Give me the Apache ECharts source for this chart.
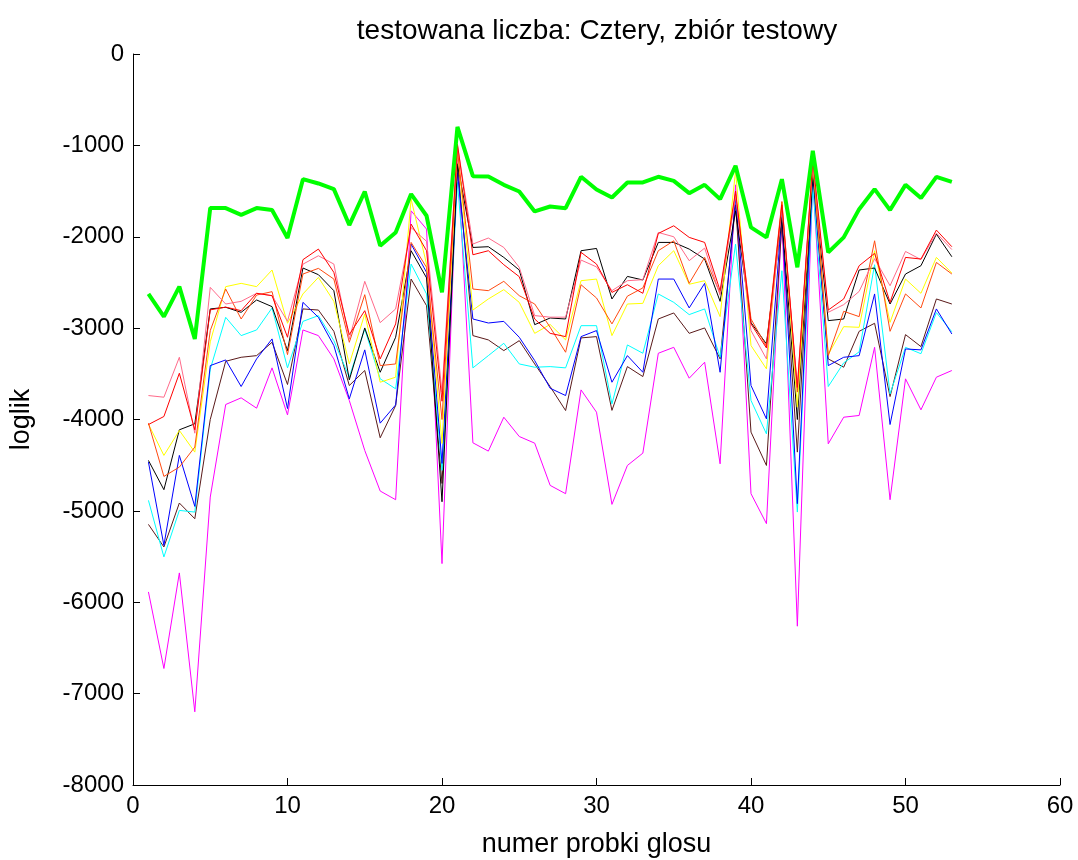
<!DOCTYPE html>
<html><head><meta charset="utf-8">
<script src="https://cdn.jsdelivr.net/npm/echarts@6/dist/echarts.min.js"></script>
<style>html,body{margin:0;padding:0;background:#fff}#c{width:1078px;height:860px}</style>
</head><body><div id="c"></div>
<script>
const xTicks = [0,10,20,30,40,50,60];
const green = [-2626,-2875,-2546,-3118,-1686,-1686,-1760,-1686,-1708,-2014,-1370,-1417,-1479,-1872,-1505,-2098,-1953,-1533,-1770,-2608,-798,-1337,-1340,-1432,-1505,-1723,-1669,-1687,-1344,-1483,-1570,-1406,-1406,-1344,-1388,-1523,-1432,-1588,-1224,-1898,-2007,-1370,-2335,-1060,-2171,-2007,-1698,-1479,-1708,-1432,-1577,-1344,-1399];
const red = [-4055,-3967,-3494,-4113,-2800,-2770,-2809,-2619,-2645,-3100,-2251,-2135,-2390,-3071,-2809,-3337,-2954,-1861,-2153,-3800,-987,-2197,-2153,-2306,-2437,-2900,-3057,-3093,-2171,-2299,-2609,-2525,-2619,-1964,-1880,-2007,-2062,-2590,-1500,-2954,-3217,-1650,-3650,-1151,-2802,-2681,-2317,-2182,-2718,-2226,-2244,-1927,-2109];
const pink = [-3738,-3756,-3319,-4150,-2554,-2736,-2707,-2619,-2645,-2926,-2300,-2208,-2299,-3120,-2488,-2940,-2790,-1900,-2050,-3700,-1000,-2080,-2014,-2117,-2335,-2863,-2880,-2880,-2255,-2330,-2590,-2481,-2470,-1953,-2000,-2262,-2124,-2640,-1550,-3027,-3337,-1700,-3650,-1200,-2827,-2743,-2598,-2240,-2536,-2161,-2250,-1960,-2140];
const orangered = [-4040,-4623,-4521,-4302,-3027,-2572,-2900,-2638,-2601,-3290,-2408,-2346,-2463,-3155,-2634,-3410,-3392,-2062,-2335,-4000,-1050,-2572,-2590,-2488,-2645,-2736,-2991,-3264,-2525,-2670,-2954,-2650,-2560,-2153,-2044,-2510,-2226,-2620,-1533,-2900,-3200,-1614,-3700,-1151,-3301,-2816,-2874,-2044,-3035,-2626,-2779,-2281,-2408];
const yellow = [-4050,-4393,-4120,-4357,-3150,-2546,-2510,-2546,-2364,-2947,-2626,-2445,-2707,-3392,-2845,-3592,-3537,-1588,-2300,-4262,-1050,-2802,-2681,-2579,-2718,-3057,-2960,-3129,-2481,-2463,-3082,-2736,-2729,-2317,-2153,-2520,-2481,-2874,-1279,-3191,-3446,-1620,-3865,-1200,-3290,-2984,-2991,-2153,-2937,-2463,-2619,-2226,-2397];
const black = [-4448,-4768,-4113,-4047,-2790,-2772,-2827,-2692,-2765,-3246,-2342,-2415,-2590,-3566,-2998,-3483,-3100,-2153,-2450,-4900,-1206,-2117,-2109,-2226,-2364,-2962,-2889,-2900,-2153,-2128,-2681,-2434,-2473,-2062,-2062,-2135,-2244,-2707,-1716,-2940,-3173,-1789,-4000,-1315,-2918,-2900,-2364,-2342,-2736,-2408,-2317,-1971,-2219];
const blue = [-4466,-5377,-4393,-4951,-3410,-3348,-3639,-3337,-3118,-3880,-2718,-2882,-3191,-3774,-3238,-4040,-3840,-2080,-2390,-4481,-1300,-2900,-2944,-2926,-3100,-3355,-3658,-3738,-3093,-3027,-3592,-3301,-3483,-2463,-2463,-2779,-2510,-3483,-1570,-3628,-3993,-1750,-4921,-1279,-3410,-3319,-3301,-2626,-4055,-3228,-3238,-2790,-3064];
const cyan = [-4885,-5504,-4995,-5013,-3450,-2882,-3082,-3020,-2779,-3435,-2926,-2863,-3137,-3537,-3009,-3555,-3664,-2299,-2626,-4557,-1406,-3435,-3301,-3166,-3392,-3428,-3421,-3435,-2973,-2973,-3829,-3184,-3275,-2626,-2718,-2852,-2790,-3319,-2080,-3792,-4157,-2372,-5013,-1450,-3639,-3380,-3260,-2306,-3720,-3210,-3280,-2830,-3040];
const brown = [-5148,-5395,-4914,-5086,-4000,-3363,-3319,-3301,-3155,-3617,-2790,-2802,-3035,-3628,-3464,-4200,-3847,-2463,-2754,-4700,-1200,-3082,-3129,-3246,-3137,-3392,-3640,-3902,-3107,-3093,-3900,-3421,-3530,-2900,-2834,-3057,-2998,-3337,-1650,-4138,-4503,-1850,-4357,-1350,-3337,-3428,-3035,-2947,-3749,-3071,-3202,-2681,-2736];
const magenta = [-5887,-6725,-5679,-7199,-4849,-3836,-3763,-3876,-3435,-3950,-3020,-3082,-3337,-3792,-4339,-4783,-4878,-1716,-1916,-5577,-1096,-4255,-4346,-3975,-4186,-4259,-4721,-4812,-3676,-3920,-4929,-4503,-4368,-3275,-3210,-3548,-3373,-4485,-1432,-4812,-5140,-1800,-6262,-1350,-4266,-3975,-3956,-3210,-4878,-3555,-3894,-3537,-3464];

const seriesDefs = [
  ['magenta', magenta, '#FF00FF', 1],
  ['brown', brown, '#5A1A1A', 1],
  ['cyan', cyan, '#00FFFF', 1],
  ['blue', blue, '#0000FF', 1],
  ['black', black, '#000000', 1],
  ['yellow', yellow, '#FFFF00', 1],
  ['orangered', orangered, '#FF4A10', 1],
  ['pink', pink, '#FF6A8A', 1],
  ['red', red, '#FF0000', 1],
  ['green', green, '#00FF00', 4]
];
const chart = echarts.init(document.getElementById('c'), null, {renderer:'canvas'});
const font = 'Liberation Sans, Arial, sans-serif';
chart.setOption({
  animation: false,
  backgroundColor: '#fff',
  title: {text: 'testowana liczba: Cztery, zbiór testowy', left: 592, top: 12, textAlign: 'center',
    textStyle: {fontFamily: font, fontSize: 28, fontWeight: 'normal', color: '#000'}},
  grid: {left: 133, right: 18, top: 54, bottom: 75, containLabel: false, outerBoundsMode: 'none'},
  xAxis: {type: 'value', min: 0, max: 60, interval: 10,
    name: 'numer probki glosu', nameLocation: 'middle', nameGap: 46,
    nameTextStyle: {fontFamily: font, fontSize: 27, color: '#000'},
    axisLine: {onZero: false, lineStyle: {color: '#000', width: 1}},
    axisTick: {inside: true, length: 7, lineStyle: {color: '#000'}},
    axisLabel: {fontFamily: font, fontSize: 24, color: '#000', margin: 9,
      formatter: v => String(v)},
    splitLine: {show: false}},
  yAxis: {type: 'value', min: -8000, max: 0, interval: 1000,
    name: 'loglik', nameLocation: 'middle', nameGap: 98, nameRotate: 90,
    nameTextStyle: {fontFamily: font, fontSize: 27, color: '#000'},
    axisLine: {show: true, onZero: false, lineStyle: {color: '#000', width: 1}},
    axisTick: {show: true, inside: true, length: 7, lineStyle: {color: '#000'}},
    axisLabel: {fontFamily: font, fontSize: 24, color: '#000', margin: 9,
      formatter: v => String(v)},
    splitLine: {show: false}},
  series: seriesDefs.map(([name, arr, color, w]) => ({
    name, type: 'line', symbol: 'none', smooth: false,
    data: arr.map((v, i) => [i + 1, v]),
    lineStyle: {color, width: w}, itemStyle: {color}
  }))
});
</script></body></html>
